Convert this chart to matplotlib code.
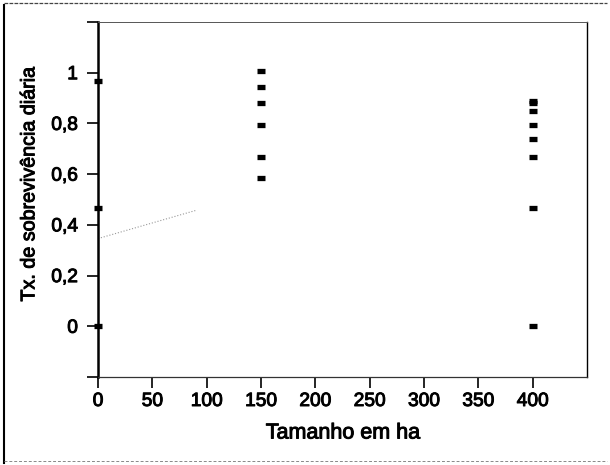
import matplotlib.pyplot as plt
import matplotlib.patheffects as pe
from matplotlib.lines import Line2D


# areas (ha) and daily survival rate
area_ha = [0, 0, 0,
           150, 150, 150, 150, 150, 150,
           400, 400, 400, 400, 400, 400, 400, 400]
survival = [0.967, 0.467, 0.0,
            1.005, 0.944, 0.880, 0.795, 0.668, 0.583,
            0.890, 0.880, 0.850, 0.794, 0.738, 0.668, 0.467, 0.0]

# faint dotted trace left over from the scan
trace_x = [0, 90]
trace_y = [0.346, 0.457]

x_ticks = [0, 50, 100, 150, 200, 250, 300, 350, 400]
y_ticks = [-0.2, 0.0, 0.2, 0.4, 0.6, 0.8, 1.0, 1.2]
y_tick_labels = ["", "0", "0,2", "0,4", "0,6", "0,8", "1", ""]

plt.rcParams["font.family"] = ["Liberation Sans", "DejaVu Sans"]

fig = plt.figure(figsize=(6.1, 4.65), dpi=100)
ax = fig.add_axes([0.1607, 0.1892, 0.8016, 0.7635])

ax.plot(trace_x, trace_y, color="#999999", linestyle=":", linewidth=0.8)
ax.plot(area_ha, survival, linestyle="none", marker="_", markersize=5.8,
        markeredgewidth=3.8, color="black", clip_on=False)

ax.set_xlim(0, 450)
ax.set_ylim(-0.2, 1.2)
ax.set_xticks(x_ticks)
ax.set_xticklabels([str(v) for v in x_ticks])
ax.set_yticks(y_ticks)
ax.set_yticklabels(y_tick_labels)

ax.tick_params(axis="both", direction="out", length=8, width=1.2,
               labelsize=13.8, color="black")
ax.tick_params(axis="x", pad=3.5)
ax.tick_params(axis="y", pad=6.5)

ax.spines["left"].set_linewidth(1.8)
ax.spines["bottom"].set_linewidth(0.9)
ax.spines["bottom"].set_color("#333333")
ax.spines["top"].set_linewidth(0.7)
ax.spines["top"].set_color("#555555")
ax.spines["top"].set_linestyle((0, (3, 1)))
ax.spines["right"].set_linewidth(1.0)

ax.set_xlabel("Tamanho em ha", fontsize=15.5, labelpad=9)
ax.set_ylabel("Tx. de sobrevivência diária", fontsize=14.2)
ax.yaxis.set_label_coords(-0.122, 0.545)

# scanned print looks slightly heavier than a plain regular weight
thicken = [pe.withStroke(linewidth=0.7, foreground="black")]
for txt in ax.get_xticklabels() + ax.get_yticklabels():
    txt.set_path_effects(thicken)
ax.xaxis.label.set_path_effects(thicken)
ax.yaxis.label.set_path_effects(thicken)

# outer frame of the scanned figure
fig.add_artist(Line2D([0.006, 0.006], [0.005, 0.99], transform=fig.transFigure,
                      color="black", linewidth=1.5))
fig.add_artist(Line2D([0.006, 0.995], [0.993, 0.993], transform=fig.transFigure,
                      color="#444444", linewidth=0.9, linestyle=(0, (3, 1))))
fig.add_artist(Line2D([0.006, 0.995], [0.008, 0.008], transform=fig.transFigure,
                      color="#888888", linewidth=0.7, linestyle=(0, (3, 2))))

fig.savefig("out.png", dpi=100)
